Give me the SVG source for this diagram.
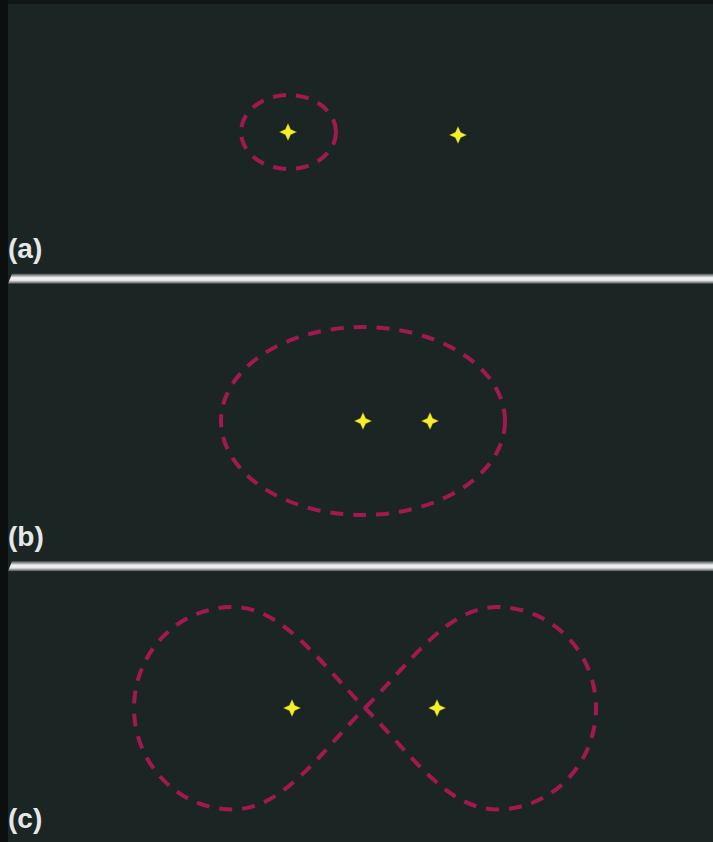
<svg xmlns="http://www.w3.org/2000/svg" width="713" height="842" viewBox="0 0 713 842">
  <style>
    .orbit { fill: none; stroke: #a3194f; stroke-width: 4; stroke-dasharray: 13 10; }
    .label { font-family: "Liberation Sans", Arial, sans-serif; font-weight: bold; font-size: 28px; fill: #e6e8e8; }
    .star { fill: #f4ef2a; stroke: #0e1414; stroke-width: 1.2; stroke-opacity: 0.6; }
  </style>
  <defs>
    <linearGradient id="bar" x1="0" y1="0" x2="0" y2="1">
      <stop offset="0" stop-color="#3a4040"/>
      <stop offset="0.2" stop-color="#9a9c9c"/>
      <stop offset="0.4" stop-color="#f2f2f2"/>
      <stop offset="0.65" stop-color="#e8e8e8"/>
      <stop offset="0.85" stop-color="#8a8c8c"/>
      <stop offset="1" stop-color="#2a3030"/>
    </linearGradient>
    <path id="starShape" d="M 0 -9.5 L 3 -3 L 9.5 0 L 3 3 L 0 9.5 L -3 3 L -9.5 0 L -3 -3 Z"/>
  </defs>

  <rect x="0" y="0" width="713" height="842" fill="#1b2524"/>
  <rect x="0" y="0" width="713" height="4" fill="#111616"/>
  <rect x="0" y="0" width="8" height="842" fill="#0c0f0f"/>

  <!-- separators -->
  <path d="M 12 273.5 L 713 273.5 L 713 284 L 8 284 Z" fill="url(#bar)"/>
  <path d="M 12 561 L 713 561 L 713 571.5 L 8 571.5 Z" fill="url(#bar)"/>

  <!-- panel a -->
  <g id="panel-a">
    <g id="orbit-a"><ellipse class="orbit" cx="288.5" cy="132" rx="47.5" ry="37"/></g>
    <g id="star-a1"><use href="#starShape" class="star" x="288" y="132"/></g>
    <g id="star-a2"><use href="#starShape" class="star" x="458" y="135"/></g>
    <text class="label" x="8" y="258">(a)</text>
  </g>

  <!-- panel b -->
  <g id="panel-b">
    <g id="orbit-b"><ellipse class="orbit" cx="363" cy="421" rx="142" ry="94"/></g>
    <g id="star-b1"><use href="#starShape" class="star" x="363" y="421"/></g>
    <g id="star-b2"><use href="#starShape" class="star" x="430" y="421"/></g>
    <text class="label" x="8" y="546">(b)</text>
  </g>

  <!-- panel c -->
  <g id="panel-c">
    <g id="orbit-c">
      <path class="orbit" d="M 365 708 C 410 663, 447 607, 497 607 C 551.7 607, 596 652.2, 596 708 C 596 763.8, 551.7 809.5, 497 809.5 C 447 809.5, 410 753, 365 708 C 320 663, 283 607, 233 607 C 178.3 607, 134 652.2, 134 708 C 134 763.8, 178.3 809.5, 233 809.5 C 283 809.5, 320 753, 365 708 Z"/>
    </g>
    <g id="star-c1"><use href="#starShape" class="star" x="292" y="708"/></g>
    <g id="star-c2"><use href="#starShape" class="star" x="437" y="708"/></g>
    <text class="label" x="8" y="828">(c)</text>
  </g>
</svg>
